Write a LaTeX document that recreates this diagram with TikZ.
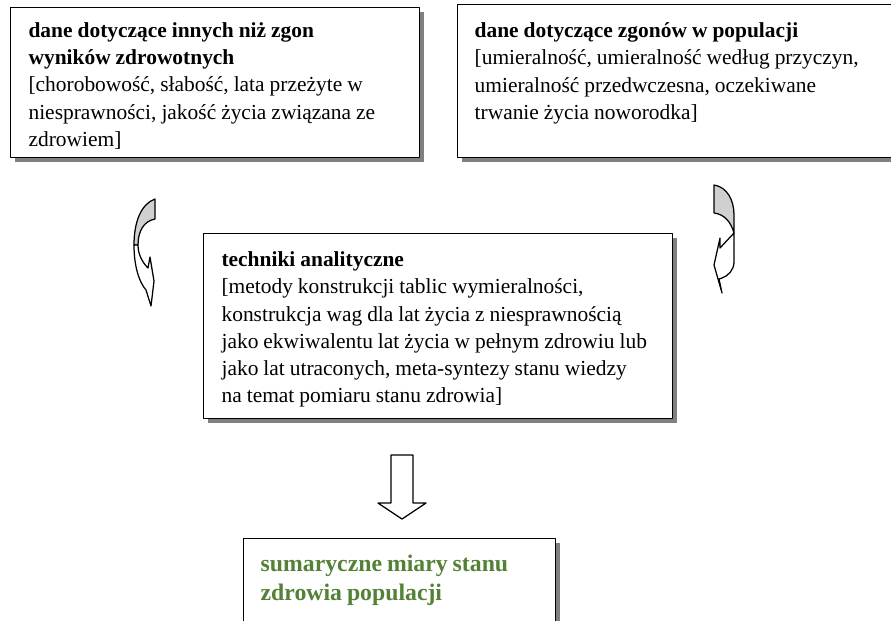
\documentclass[tikz,border=0pt]{standalone}
\usepackage{fontspec}
\setmainfont{Liberation Serif}
\usetikzlibrary{shadows}
\definecolor{zielony}{RGB}{83,129,53}
\definecolor{szary}{RGB}{208,208,208}
\begin{document}
\begin{tikzpicture}[x=0.56pt, y=-0.56pt, line join=round,
    ramka/.style={draw, line width=0.8pt, fill=white, anchor=north west, align=left, inner ysep=0pt,
        drop shadow={shadow xshift=2.5pt, shadow yshift=-2.5pt, fill=black!50, opacity=1},
        font=\fontsize{12}{15.2}\selectfont,
        execute at begin node={\spaceskip=2.8pt plus 1pt minus 0.8pt\relax}},
    strzalka/.style={draw, line width=0.7pt, fill=white}]
    \useasboundingbox (0,0) rectangle (891,620);
    \node[ramka, text width=209pt, inner xsep=10pt, text height=16.8pt, text depth=67.2pt] (niezgon) at (10,7)
        {\textbf{dane dotyczące innych niż zgon}\\ \textbf{wyników zdrowotnych}\\
        {[}chorobowość, słabość, lata przeżyte w\\ niesprawności, jakość życia związana ze\\ zdrowiem]};
    \node[ramka, text width=250pt, inner xsep=9.5pt, text height=18.5pt, text depth=67.2pt] (zgony) at (457,4)
        {\textbf{dane dotyczące zgonów w populacji}\\
        {[}umieralność, umieralność według przyczyn,\\ umieralność przedwczesna, oczekiwane\\ trwanie życia noworodka]};
    \node[ramka, text width=242.6pt, inner xsep=10pt, text height=18.5pt, text depth=85.1pt] (techniki) at (203,233)
        {\textbf{techniki analityczne}\\
        {[}metody konstrukcji tablic wymieralności,\\ konstrukcja wag dla lat życia z niesprawnością\\
        jako ekwiwalentu lat życia w pełnym zdrowiu lub\\ jako lat utraconych, meta-syntezy stanu wiedzy\\
        na temat pomiaru stanu zdrowia]};
    \node[ramka, text width=155.7pt, inner xsep=9.5pt, text height=18.5pt, text depth=60pt,
        font=\fontsize{13.3}{16.2}\selectfont\bfseries, text=zielony] (miary) at (243,538)
        {sumaryczne miary stanu\\ zdrowia populacji};
    % lewa
    \draw[strzalka, fill=szary] (155,199) .. controls (141,204) and (134,222) .. (134,245) -- (138,245)
        .. controls (138,231) and (144,221) .. (155,219) -- cycle;
    \draw[strzalka] (134,245) .. controls (134,266) and (139,282) .. (146,290) -- (151,306) -- (154,281)
        -- (150,257) -- (148,268) .. controls (142,262) and (138,254) .. (138,245) -- cycle;
    % prawa
    \draw[strzalka, fill=szary] (714,185) .. controls (727,187) and (734,200) .. (734,215) -- (734,233)
        .. controls (731,222) and (724,214) .. (714,213) -- cycle;
    \draw[strzalka] (734,233) -- (734,262) .. controls (734,270) and (728,276) .. (722,278) -- (719,279)
        -- (722,293) -- (714,265) -- (720,238) -- (720,248) -- cycle;
    % w dol
    \draw[strzalka] (391,455) -- (413,455) -- (413,503) -- (426,503) -- (402,519) -- (378,503) -- (391,503) -- cycle;
\end{tikzpicture}
\end{document}
